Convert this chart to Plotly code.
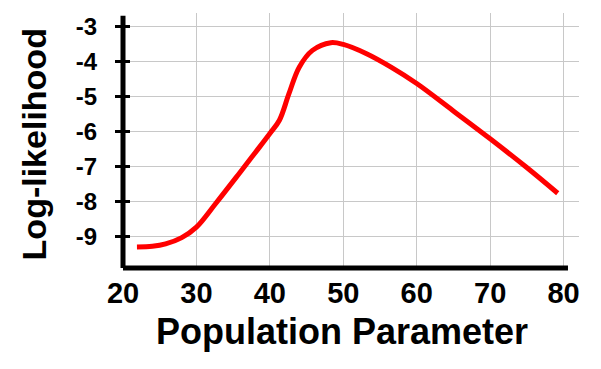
import plotly.graph_objects as go

# Data
pop_param = [21.9, 24.0, 25.8, 28.0, 30.0, 32.6, 35.8, 38.0, 40.0, 41.3, 42.6, 44.0, 45.8, 48.3, 50.0,
             53.1, 56.5, 60.0, 64.9, 70.0, 74.9, 79.2]
log_lik = [-9.30, -9.28, -9.21, -9.03, -8.73, -8.06, -7.20, -6.60, -6.05, -5.67, -4.91, -4.15, -3.67,
           -3.45, -3.50, -3.76, -4.15, -4.62, -5.39, -6.20, -7.01, -7.76]

x_ticks = [20, 30, 40, 50, 60, 70, 80]
y_ticks = [-9, -8, -7, -6, -5, -4, -3]

X_RANGE = [20, 82.1]
Y_RANGE = [-9.9, -2.6]
FONT = "Liberation Sans"

fig = go.Figure()
fig.add_trace(go.Scatter(
    x=pop_param, y=log_lik, mode="lines",
    line=dict(color="#ff0000", width=5, shape="spline", smoothing=1.0),
    hoverinfo="skip", showlegend=False,
))
# dummy trace to activate second y axis (for crossing tick marks)
fig.add_trace(go.Scatter(x=[None], y=[None], yaxis="y2", showlegend=False, hoverinfo="skip"))

fig.update_layout(
    width=601, height=369,
    margin=dict(l=123, r=22, t=13, b=101, autoexpand=False),
    paper_bgcolor="white", plot_bgcolor="white",
    font=dict(family=FONT, color="black", weight=700),
    xaxis=dict(
        range=X_RANGE, tickmode="array", tickvals=x_ticks, ticktext=[str(v) for v in x_ticks],
        showgrid=True, gridcolor="#c8c8c8", gridwidth=1, zeroline=False, showline=False,
        ticks="", tickfont=dict(size=29, family=FONT, weight=700, color="black"),
        ticklabelstandoff=5, automargin=False,
    ),
    yaxis=dict(
        range=Y_RANGE, tickmode="array", tickvals=y_ticks, ticktext=[str(v) for v in y_ticks],
        showgrid=True, gridcolor="#c8c8c8", gridwidth=1, zeroline=False, showline=False,
        ticks="outside", ticklen=7, tickwidth=3, tickcolor="black",
        tickfont=dict(size=24, family=FONT, weight=700, color="black"),
        ticklabelstandoff=13, automargin=False,
    ),
    yaxis2=dict(
        range=Y_RANGE, overlaying="y", side="left", tickmode="array", tickvals=y_ticks,
        showgrid=False, zeroline=False, showline=False, showticklabels=False,
        ticks="inside", ticklen=7, tickwidth=3, tickcolor="black", automargin=False,
    ),
    annotations=[
        dict(text="Population Parameter", xref="paper", yref="paper", x=0.48, y=-0.25,
             xanchor="center", yanchor="middle", showarrow=False,
             font=dict(size=36, family=FONT, color="black", weight=700)),
        dict(text="Log-likelihood", xref="paper", yref="paper", x=-0.195, y=0.485,
             xanchor="center", yanchor="middle", showarrow=False, textangle=-90,
             font=dict(size=34, family=FONT, color="black", weight=700)),
    ],
    shapes=[
        dict(type="line", xref="paper", yref="paper", x0=0, x1=0, y0=0,
             y1=(-2.68 - Y_RANGE[0]) / (Y_RANGE[1] - Y_RANGE[0]),
             line=dict(color="black", width=5), layer="above"),
        dict(type="line", xref="paper", yref="paper", x0=0,
             x1=(80.6 - X_RANGE[0]) / (X_RANGE[1] - X_RANGE[0]), y0=0, y1=0,
             line=dict(color="black", width=5), layer="above"),
    ],
)

fig.write_html("out.html", config={"displayModeBar": False},
               post_script="document.body.style.margin='0';")
